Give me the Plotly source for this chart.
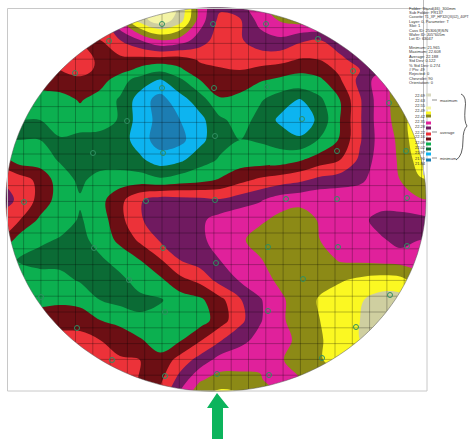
import numpy as np
import plotly.graph_objects as go

W, H = 475, 439
CX, CY, RX, RY = 216, 199.5, 210, 192

band_colors = ["#1c7db2", "#0db4f0", "#0b6b35", "#0cb050", "#6c0f14", "#ec3239",
               "#701a60", "#e0219b", "#8c8a16", "#fbf822", "#cfcfa0", "#f4f4a6"]

grid_x = [0, 20, 40, 60, 80, 100, 120, 140, 160, 180, 200, 220, 240, 260, 280, 300, 320, 340, 360, 380, 400, 420, 440]
grid_y = [0, 20, 40, 60, 70, 80, 100, 120, 140, 160, 180, 200, 220, 240, 260, 280, 300, 320, 340, 360, 380, 400]
grid_z = [
 [5,5,5,5,5.5,7,9,10.5,11.5,10.5,6.8,6,6.4,7.5,8,8,8,8,8,8,8,8,8],
 [5,5,5,5,4.8,4.8,7.5,10,11.2,10,7,5.2,5.4,6.9,7.6,8,8,8,8,8,8,8,8],
 [4.5,4.5,4.5,4.5,4.4,4.5,5.5,6.5,7.5,7.1,6,5,5.4,6,6.3,5.7,5.5,6.2,7,8,8,8,8],
 [4,4,4,5,5,4.3,4.2,4.1,4,4,4.6,5,5,5,4.8,4.4,4.5,5.2,6,7,8,8,8],
 [4,4,4,4.5,5,4.2,3.9,3.2,2.7,3.3,4.2,4.3,4.5,4.2,4,3.6,4,4.7,5.5,6.5,8,8,8],
 [3.5,3.5,4,4.3,4.2,4,2.9,2.1,1.4,2.3,3.5,4.1,4.2,3.6,3.3,3.3,3.3,4.4,5.8,7,8,8.5,8.5],
 [2.8,3,3,3,3.6,3,2.4,1,0.1,1.1,2,3.4,3.1,2.6,2,1.4,2.3,3.5,5.4,7,8,8.8,9],
 [2.5,2.5,2.5,3,3,3,2.4,1,0.2,0.5,1.2,2.3,2.9,2.2,1.3,0.7,1.8,3.5,5.4,7,7.9,9.5,9.5],
 [2.5,2.5,2.5,2.4,2.2,2.1,2,1,0,0.2,1.2,2.2,2.5,2.4,2.1,1.7,2.6,3.6,5.4,6.9,7.7,9.5,9.5],
 [4,3,3,2.4,2.1,2,2,1.7,1,1.3,2.1,2.6,3,3,3,3.4,4,4.5,5.7,7,7.6,9,9],
 [5.5,5,4.2,3,2.3,2.9,3,3,2.7,3,3.2,3.6,4.2,4.7,5,5.3,5.8,6,6.3,7,7.5,8.4,8.5],
 [6.2,5.2,4.2,3,2.6,3.2,4.2,5.4,6,5.9,5.8,5.6,6,6.4,7,7.2,7.3,7.3,7.2,7.2,7.2,7.4,7.5],
 [5,4.5,3.3,3,2.4,3,4.2,5.4,6,6.2,6.3,6.9,7.2,7.3,7.8,8,7.4,7.2,6.9,6,6,6.2,6.5],
 [4.5,3,2.7,2.4,2.1,3,3.7,4.7,5.6,6,6.3,6.9,7.3,8,8.2,8.2,7.5,7.1,7,6.7,6.1,6.5,6.5],
 [3,2.4,2.1,2.2,2,2.3,3,3.5,4.4,5.5,6,6.5,7,7.4,8.2,8.2,8,7.4,7.3,7.2,7.1,7,7],
 [3,3,3,2.8,2.4,2.1,2.2,3,3.3,4.2,4.8,5.9,6.6,7.1,7.7,8.2,8.2,8.4,8.7,8.9,8.8,8,8],
 [3,3,3,3.3,3.2,2.5,2.2,2.2,2.4,3,3.3,4.2,5.4,6.4,7.3,8,8.6,9,9.4,9.9,9.9,9,9],
 [4.4,4.4,4.4,4.1,4,3.5,3.2,2.7,2.9,3,3,4,5.2,6.4,7.3,8,8.5,9,9.5,10.3,10,10,10],
 [5,5,5,4.9,4.9,4.5,4.1,3.6,3,3.4,4.4,5.4,6.2,6.8,7.2,7.7,8.4,9,9.5,10,10,10,10],
 [5.2,5.2,5.2,5.2,5.2,5.2,4.6,4.5,3.8,4.9,5.9,6.9,7.1,7.3,7.4,7.9,8.4,9,9.5,9.5,9.5,9.5,9.5],
 [5,5,5,5,5,5,5.5,4.4,4.3,5.9,7.4,7.9,7.8,7.6,7,7.5,8,8,8,8,8,8,8],
 [5,5,5,5,5,5,5,5,5,7,8.5,9.2,8.9,8.2,8,8,8,8,8,8,8,8,8],
]

site_x = [162,213,109,75,162,214,127,215,93,163,24,146,215,266,318,353,389,302,267,337,406,286,337,407,
          94,163,216,129,41,165,77,112,165,268,338,407,303,390,268,356,322,217,269]
site_y = [24,24,41,73,88,88,121,136,153,153,202,201,200,24,39,71,103,119,87,151,151,199,199,198,
          248,248,263,280,297,312,328,360,376,247,247,246,279,295,311,327,358,374,375]

mesh_x = [162 + 17.3 * k for k in range(-9, 16)]
mesh_y = [233 + 15.8 * k for k in range(-14, 11)]

legend_labels = ["22.69","22.63","22.55","22.49","22.42","22.35","22.28","22.22","22.16","22.09","22.02","21.97","21.90","21.84"]
legend_label_y = [95,100,105,110,116,121,126,132,136,142,147,152,158,163]
chip_y = [95,108,113,116,123,128,134,139,144,149,154,160]
chip_colors = ["#d8d8c0","#f4f4a6","#fbf822","#8c8a16","#e0219b","#701a60","#ec3239","#6c0f14","#0cb050","#0b6b35","#0db4f0","#1c7db2"]

info_lines = ["Folder: Stand(46)_300mm","Sub Folder: PR137","Cassette: T1_XP_HP32/QX(02)_40PT",
              "Layer: 0, Parameter: T","Slot: 1","Cass ID: 25306(8)S/N","Wafer ID: J05*605m","Lot ID: 63047"]
stat_lines = ["Minimum: 21.965","Maximum: 22.608","Average: 22.188","Std Dev: 0.122","% Std Dev: 0.274",
              "# Pts: 49","Rejected: 0","Chevrolet: 90","Orientation: 0"]
side_notes = [("maximum", 100), ("average", 132), ("minimum", 158)]

n = len(band_colors)
scale = []
for i, c in enumerate(band_colors):
    scale += [[i / n, c], [(i + 1) / n, c]]

fig = go.Figure()
fig.add_trace(go.Contour(
    x=grid_x, y=grid_y, z=grid_z, colorscale=scale, zmin=-0.5, zmax=n - 0.5, showscale=False,
    autocontour=False, contours=dict(start=0.5, end=n - 1.5, size=1, coloring="fill", showlines=False),
    line=dict(width=0), hoverinfo="skip"))

# mesh, clipped to the wafer
lx, ly = [], []
for x in mesh_x:
    t = (x - CX) / RX
    if abs(t) < 1:
        d = RY * np.sqrt(1 - t * t)
        lx += [x, x, None]; ly += [CY - d, CY + d, None]
for y in mesh_y:
    t = (y - CY) / RY
    if abs(t) < 1:
        d = RX * np.sqrt(1 - t * t)
        lx += [CX - d, CX + d, None]; ly += [y, y, None]
fig.add_trace(go.Scatter(x=lx, y=ly, mode="lines", line=dict(color="rgba(0,0,0,0.45)", width=0.6), hoverinfo="skip"))
fig.add_trace(go.Scatter(x=site_x, y=site_y, mode="markers", hoverinfo="skip",
                         marker=dict(symbol="circle-open", size=5, color="#2f8f62", line=dict(width=1))))

th = np.linspace(0, 2 * np.pi, 241)
ell = " ".join(("M" if i == 0 else "L") + f"{CX + RX * np.cos(a):.1f} {CY + RY * np.sin(a):.1f}" for i, a in enumerate(th)) + " Z"
shapes = [
    dict(type="path", path=f"M-5 -5 L480 -5 L480 444 L-5 444 Z {ell}", fillcolor="white", fillrule="evenodd",
         line=dict(width=0), layer="above", xref="x", yref="y"),
    dict(type="path", path=ell, line=dict(color="#555", width=0.5), xref="x", yref="y", layer="above"),
    dict(type="rect", x0=7.5, y0=8.5, x1=427, y1=391, line=dict(color="#c8c8c8", width=1), xref="x", yref="y", layer="above"),
    dict(type="line", x0=423.5, y0=0, x1=423.5, y1=175, line=dict(color="#bbbbbb", width=1), xref="x", yref="y", layer="above"),
    dict(type="path", path="M217 393 L229 408 L223 408 L223 439 L212 439 L212 408 L207 408 Z", fillcolor="#0cb45c",
         line=dict(width=0), xref="x", yref="y", layer="above"),
    dict(type="path", path="M461 94 Q467 96 465 110 Q464 122 467 126 Q463 130 463 140 Q463 156 456 160",
         line=dict(color="#333", width=0.8), xref="x", yref="y", layer="above"),
]
for yc, col in zip(chip_y, chip_colors):
    shapes.append(dict(type="rect", x0=426, x1=431, y0=yc - 1.5, y1=yc + 1.5, fillcolor=col, line=dict(width=0),
                       xref="x", yref="y", layer="above"))
for _, yc in side_notes:
    shapes.append(dict(type="line", x0=432, x1=437, y0=yc, y1=yc, line=dict(color="#444", width=0.6), xref="x", yref="y", layer="above"))

ann = []
def t(x, y, s, size=4.0):
    if len(s) > 28:
        size = 3.5
    ann.append(dict(x=x, y=y, text=s, showarrow=False, xanchor="left", yanchor="middle", xref="x", yref="y",
                    font=dict(family="Liberation Sans", size=size, color="#333")))
for i, s in enumerate(info_lines):
    t(407, 8 + i * 4.4, s)
for i, s in enumerate(stat_lines):
    t(407, 47.5 + i * 4.4, s)
for s, yy in zip(legend_labels, legend_label_y):
    t(413, yy, s)
for s, yy in side_notes:
    t(438, yy, s)

fig.update_layout(
    width=W, height=H, margin=dict(l=0, r=0, t=0, b=0), showlegend=False,
    paper_bgcolor="white", plot_bgcolor="white",
    xaxis=dict(range=[0, W], visible=False, fixedrange=True),
    yaxis=dict(range=[H, 0], visible=False, fixedrange=True),
    shapes=shapes, annotations=ann)
fig.write_html("out.html", config={"displayModeBar": False},
               post_script="document.body.style.margin='0';")
